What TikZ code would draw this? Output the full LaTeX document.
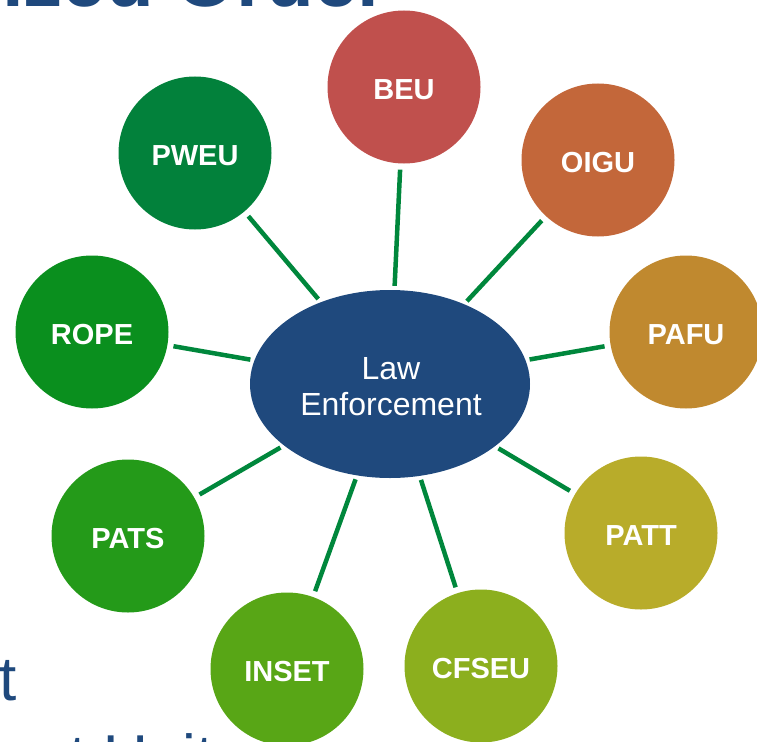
\documentclass[tikz,border=0pt]{standalone}
\usepackage{fontspec}
\setmainfont{Liberation Sans}
\usetikzlibrary{shapes.geometric}
\definecolor{navy}{HTML}{1F497D}
\definecolor{conncol}{HTML}{00873C}
\definecolor{cBEU}{HTML}{C0504D}
\definecolor{cOIGU}{HTML}{C3673A}
\definecolor{cPAFU}{HTML}{C0892F}
\definecolor{cPATT}{HTML}{B8AC2A}
\definecolor{cCFSEU}{HTML}{8CAF1E}
\definecolor{cINSET}{HTML}{58A616}
\definecolor{cPATS}{HTML}{249A19}
\definecolor{cROPE}{HTML}{0A8F1E}
\definecolor{cPWEU}{HTML}{02813B}
\tikzset{
  unit/.style={circle, minimum size=153pt, inner sep=0pt, text=white,
    text height=25pt, text depth=0pt,
    font=\fontsize{29}{34}\selectfont\bfseries},
  hub/.style={ellipse, fill=navy, minimum width=280pt, minimum height=188pt,
    inner sep=0pt},
  hubtext/.style={inner sep=0pt, text=white, align=center,
    font=\fontsize{32}{36}\selectfont},
  conn/.style={draw=conncol, line width=4.5pt, shorten <=4pt, shorten >=6pt},
  bgtext/.style={inner sep=0pt, text=navy}
}
\begin{document}
\begin{tikzpicture}[x=1pt,y=-1pt]
\useasboundingbox (0,0) rectangle (757,741);
\clip (0,0) rectangle (757,741);
\node[bgtext, anchor=base east, font=\fontsize{78}{90}\selectfont\bfseries] (title) at (388,7) {ized Order};
\node[bgtext, anchor=base west, font=\fontsize{62}{78}\selectfont] (tleft) at (-1,700) {t};
\node[bgtext, anchor=base west, font=\fontsize{62}{78}\selectfont] (tbottom) at (69,778) {t Unit};

\node[hub] (law) at (390,384) {};
\node[hubtext] (lawtext) at (391,387) {Law\\Enforcement};

\node[unit, fill=cBEU]   (beu)   at (404,87)  {BEU};
\node[unit, fill=cOIGU]  (oigu)  at (598,160) {OIGU};
\node[unit, fill=cPAFU]  (pafu)  at (686,332) {PAFU};
\node[unit, fill=cPATT]  (patt)  at (641,533) {PATT};
\node[unit, fill=cCFSEU] (cfseu) at (481,666) {CFSEU};
\node[unit, fill=cINSET] (inset) at (287,669) {INSET};
\node[unit, fill=cPATS]  (pats)  at (128,536) {PATS};
\node[unit, fill=cROPE]  (rope)  at (92,332)  {ROPE};
\node[unit, fill=cPWEU]  (pweu)  at (195,153) {PWEU};

\foreach \n in {beu,oigu,pafu,patt,cfseu,inset,pats,rope,pweu}
  \draw[conn] (law) -- (\n);
\end{tikzpicture}
\end{document}
